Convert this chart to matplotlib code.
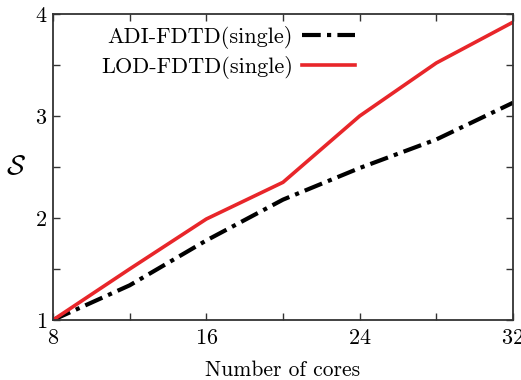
import matplotlib
matplotlib.use("Agg")
import matplotlib.pyplot as plt
from matplotlib.ticker import MultipleLocator

plt.rcParams['font.family'] = 'serif'
plt.rcParams['font.serif'] = ['cmr10']
plt.rcParams['mathtext.fontset'] = 'cm'
plt.rcParams['axes.formatter.use_mathtext'] = True

cores = [8, 12, 16, 20, 24, 28, 32]
adi = [1.0, 1.34, 1.78, 2.18, 2.49, 2.77, 3.13]
lod = [1.0, 1.50, 1.99, 2.35, 3.00, 3.52, 3.92]
labels = ['ADI-FDTD(single)', 'LOD-FDTD(single)']

fig = plt.figure(figsize=(5.21, 3.80), dpi=100)
ax = fig.add_axes([53/521, 1 - 320/380, 460/521, 306/380])

ax.plot(cores, adi, color='black', lw=3.0, linestyle=(0, (4.5, 1.5, 1, 1.5)), label=labels[0])
ax.plot(cores, lod, color='#e8262a', lw=2.6, label=labels[1])

ax.set_xlim(8, 32)
ax.set_ylim(1, 4)
ax.xaxis.set_major_locator(MultipleLocator(8))
ax.xaxis.set_minor_locator(MultipleLocator(4))
ax.yaxis.set_major_locator(MultipleLocator(1))
ax.yaxis.set_minor_locator(MultipleLocator(0.5))
ax.tick_params(which='both', direction='in', top=True, right=True, labelsize=16, color='#333333', width=1)
ax.tick_params(which='major', length=5)
ax.tick_params(which='minor', length=5)
ax.tick_params(axis='x', pad=6)
ax.tick_params(axis='y', pad=4)
for s in ax.spines.values():
    s.set_color('#333333')
    s.set_linewidth(1.3)

ax.set_xlabel('Number of cores', fontsize=15.5, labelpad=9)
ax.set_ylabel(r'$\mathcal{S}$', fontsize=20, rotation=0, labelpad=14, va='center')

ax.legend(loc='upper left', bbox_to_anchor=(0.078, 1.0), frameon=False, markerfirst=False,
          fontsize=16, handlelength=2.4, handletextpad=0.4, labelspacing=0.3, borderaxespad=0.15)

fig.savefig('out.png', dpi=100)
